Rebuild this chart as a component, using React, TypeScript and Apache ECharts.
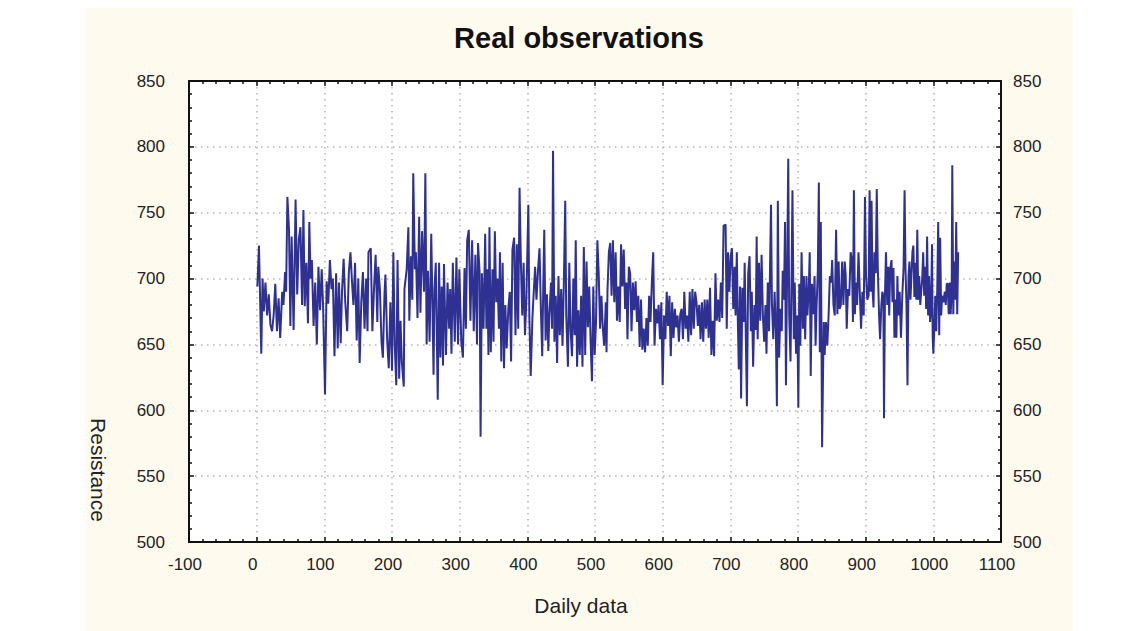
import React, { useEffect, useRef } from "react";
import * as echarts from "echarts";

const titleText = "Real observations";
const xName = "Daily data";
const yName = "Resistance";

// [day, resistance]
const segA: [number, number][] = [
  [1, 694], [3.4, 725], [6.8, 643], [8.7, 700], [10.6, 675], [13, 697], [15.5, 672], [17.9, 688], [20.3, 665], [22.7, 660],
  [25.1, 672], [27.5, 696], [30, 660], [32.4, 685], [34.8, 655], [37.7, 690], [39.6, 680], [42, 705], [43.5, 690], [45.4, 762],
  [47.8, 737], [49.8, 664], [51.7, 732], [54.6, 661], [57.5, 760], [59.9, 688], [62.3, 730], [64.7, 739], [67.1, 680], [69.1, 752],
  [71, 679], [73.4, 712], [75.8, 666], [77.8, 743], [79.7, 700], [81.6, 714], [84.1, 664], [86.5, 697], [88.9, 650], [91.3, 709],
  [93.7, 676], [96.1, 707], [98.1, 680], [101, 612], [103.4, 698], [105.8, 681], [108.2, 714], [110.6, 692], [112.6, 700], [115, 641],
  [117.4, 704], [119.8, 647], [121.7, 697], [124.2, 651], [126.1, 690], [128.5, 715], [130.9, 682], [133.8, 660], [136.2, 705], [138.6, 720],
  [140.6, 700], [143, 680], [145.4, 712], [147.8, 653], [150.2, 700], [152.2, 636], [154.6, 682], [157, 705], [159.4, 662], [161.8, 700],
  [163.8, 660], [165.2, 720],
];

const segB: [number, number][] = [
  [168.6, 723], [171, 660], [173.4, 692], [175.8, 718], [178.3, 667], [179.7, 709], [182.1, 692], [184.5, 652], [186.5, 640], [188.9, 688],
  [190.3, 703], [192.8, 654], [195.2, 632], [197.6, 682], [200, 630], [202, 720], [203.9, 652], [206.3, 619], [208.2, 714], [210.6, 624],
  [212.6, 668], [214.5, 637], [217.4, 618], [218.4, 692], [221.7, 707], [224.2, 739], [225.6, 668], [228, 717], [230, 684], [231.4, 780],
  [233.8, 707], [235.3, 720], [237.7, 670], [240.1, 747], [242, 674], [244.4, 736], [247.3, 690], [249.3, 780], [251.2, 650], [253.1, 706],
  [255.6, 652], [258, 734], [259.4, 692], [261.4, 627], [262.8, 692], [264.7, 712], [267.6, 608], [269.6, 712], [271.5, 640], [273.4, 694],
  [275.4, 634], [276.8, 711], [279.7, 642], [282.1, 697], [284.5, 662], [286, 692], [287.9, 643], [289.9, 712], [292.8, 652], [295.2, 716],
  [297.6, 650], [299.5, 707], [302.4, 652], [304.8, 640], [307.2, 708], [309.2, 662], [311.1, 729], [313.5, 737], [315.9, 668], [318.4, 729],
  [320.8, 660], [323.2, 718], [325.6, 650], [327.1, 727], [329.5, 704], [330.9, 580], [332.9, 704], [335.3, 662], [337.7, 734],
];

const segC: [number, number][] = [
  [339.5, 662], [341, 707], [342.5, 642], [344, 739], [346, 644], [348.5, 707], [350, 652], [352, 736], [354, 682], [356, 700],
  [358, 662], [359.5, 720], [361.5, 637], [363.5, 712], [365.5, 632], [367.5, 680], [369.5, 647], [372, 678], [374, 690], [376, 637],
  [378, 722], [380.5, 731], [382.5, 657], [384.5, 726], [386.5, 662], [388.5, 769], [390.5, 712], [392.5, 672], [394.5, 712], [396.5, 657],
  [398.5, 683], [401.5, 756], [403, 670], [405, 626], [407.5, 670], [409.5, 690], [411.5, 709], [413.5, 684], [416, 708], [418, 723],
  [420, 677], [422, 641], [423.5, 693], [425, 737], [427, 653], [429, 688], [431, 645], [432.5, 672], [435, 697], [436.5, 662],
  [438, 797], [440, 652], [442, 687], [444, 636], [446, 702], [448, 657], [450, 692], [452, 649], [454, 698], [456, 759],
  [457.5, 672], [460, 633], [462, 712], [464, 660], [466, 641], [468, 700], [470, 657], [471.5, 729], [473.5, 633], [475.5, 676],
  [477.5, 642], [479.5, 687], [481.5, 633], [483.5, 724], [485.5, 642], [487.5, 713], [489.5, 663], [491.5, 694], [493.5, 652], [495.5, 622],
  [497.5, 694], [499.5, 642], [501.5, 667], [503.5, 729], [505.5, 704], [507.5, 662], [509.5, 687], [511.5, 663], [513.5, 649], [516, 682],
];

const segD: [number, number][] = [
  [517, 644], [518.5, 692], [520.5, 720], [522.5, 727], [524.5, 687], [526.5, 729], [528.5, 682], [530.5, 720], [532.5, 668], [534.5, 694],
  [536.5, 667], [538.5, 726], [540.5, 694], [542.5, 722], [544.5, 677], [546.5, 697], [548, 654], [550, 709], [552, 704], [554, 660],
  [556, 697], [558, 676], [560, 698], [562, 667], [564, 687], [566, 648], [568, 684], [570, 646], [572, 662], [574, 644],
  [576, 670], [578, 649], [580, 687], [582, 667], [584, 697], [586, 720], [588, 649], [590, 677], [592, 666], [594, 680],
  [596, 654], [598, 682], [600, 619], [602, 672], [604, 654], [606, 690], [608, 664], [610, 687], [612, 641], [614, 682],
  [616, 655], [618, 677], [620, 663], [622, 672], [624, 652], [626, 673], [628, 677], [630, 654], [632, 690], [634, 662],
  [636, 672], [638, 652], [640, 690], [642, 657], [644, 692], [646, 662], [648, 690], [650, 682], [652, 664], [654, 680],
  [656, 654], [658, 682], [660, 652], [662, 684], [664, 662], [666, 684], [668, 655], [670, 693], [672, 642], [674, 668],
  [676, 641], [678, 704], [680, 668], [682, 684], [684, 667], [686, 697], [688, 670], [690, 740],
];

const segE: [number, number][] = [
  [693, 741], [694.7, 662], [696.6, 720], [698.6, 690], [700.5, 717], [702.4, 723], [704.3, 677], [706.3, 709], [707.7, 672], [709.6, 720],
  [711, 670], [712.5, 631], [714.4, 694], [715.9, 609], [717.8, 693], [719.7, 667], [721.2, 712], [723, 652], [724.5, 603], [726.4, 704],
  [728.4, 717], [730.3, 660], [731.7, 690], [733.7, 633], [735.6, 680], [737.5, 661], [738.9, 732], [740.4, 654], [742.3, 712], [744.2, 668],
  [746.2, 718], [748.1, 672], [750, 652], [751.9, 680], [753.4, 643], [755.3, 697], [757.2, 660], [758.7, 709], [760.1, 756], [761.5, 680],
  [763.5, 654], [765.4, 690], [767.3, 660], [768.8, 603], [770.2, 759], [772.1, 640], [774, 677], [776, 660], [777.4, 706], [779.3, 684],
  [780.8, 743], [782.2, 619], [784.1, 714], [785.6, 791], [787, 672], [788.9, 637], [790.4, 697], [791.8, 767], [793.8, 654], [795.2, 697],
  [797.1, 643], [799, 672], [800.5, 602], [801.9, 696], [803.4, 649], [805.3, 720], [807.2, 662], [808.7, 702], [810.6, 654], [812.5, 702],
  [813.9, 672], [815.9, 692], [817.3, 720], [818.8, 626], [820.7, 696], [822.6, 673], [824.5, 702], [826, 649], [827.4, 678], [829.3, 706],
  [830.8, 773], [832.2, 644], [833.7, 743], [835.6, 572], [838, 667], [839.4, 642], [841.3, 667], [843.3, 649], [845.2, 672], [847.1, 702],
  [849, 697], [850.5, 714], [852.4, 680], [854.3, 672], [856.3, 737], [858.2, 673], [860.1, 713], [861.5, 677],
];

const segF: [number, number][] = [
  [863.3, 680], [865.2, 713], [867.1, 680], [869.1, 713], [870.5, 702], [872, 662], [873.9, 692], [875.8, 687], [877.8, 720], [879.7, 714],
  [881.2, 667], [882.6, 767], [884.1, 673], [885.5, 697], [887.4, 680], [889.4, 720], [891.3, 690], [893.2, 662], [895.2, 690], [897.1, 672],
  [899, 762], [900.5, 703], [902.4, 684], [904.3, 687], [905.8, 767], [907.2, 690], [908.7, 759], [910.1, 692], [911.6, 678], [913, 720],
  [914.9, 704], [916.4, 768], [917.9, 709], [919.8, 672], [921.3, 654], [923.2, 680], [924.6, 690], [926.1, 687], [927.1, 594], [928.5, 687],
  [930, 720], [931.9, 680], [933.3, 709], [934.8, 672], [936.2, 707], [938.2, 714], [939.6, 682], [941.1, 708], [942.5, 655], [944, 684],
  [945.4, 655], [946.9, 702], [948.3, 672], [950.2, 690], [952.2, 655], [954.1, 687], [956, 708], [957.5, 767], [958.9, 707], [960.4, 678],
  [961.8, 619], [963.3, 702], [964.7, 713], [966.2, 684], [967.6, 702], [969.1, 720], [970.5, 725], [972, 686], [973.4, 712], [974.9, 684],
  [976.3, 737], [977.8, 684], [979.2, 702], [980.7, 680], [982.1, 690], [983.6, 700], [985, 720], [986.5, 687], [987.9, 709], [989.4, 677],
  [990.8, 732], [992.3, 672], [993.7, 702], [995.2, 667], [996.6, 677], [998.1, 726], [999, 657], [1000, 643], [1001.4, 662], [1002.9, 687],
  [1004.3, 660], [1005.8, 692], [1007.2, 743], [1008.7, 657], [1010.1, 731], [1011.6, 672], [1013, 687], [1015, 682], [1016.9, 690], [1018.4, 680],
  [1019.8, 696], [1021.3, 696], [1022.7, 673], [1024.2, 697], [1025.6, 673], [1027.1, 690], [1028, 786], [1029.5, 673], [1030.9, 713], [1032.4, 684],
  [1033.8, 743], [1035.3, 673], [1036.7, 720],
];

const xTicks = { min: -100, max: 1100, interval: 100 };
const yTicks = { min: 500, max: 850, interval: 50 };

const FONT = "'Liberation Sans Narrow', 'Liberation Sans', Arial, sans-serif";

export default function App() {
  const ref = useRef<HTMLDivElement>(null);
  useEffect(() => {
    if (!ref.current) return;
    const chart = echarts.init(ref.current, undefined, { renderer: "svg" });
    const data = [...segA, ...segB, ...segC, ...segD, ...segE, ...segF];
    const axisLine = { show: true, onZero: false, lineStyle: { color: "#111", width: 2 } };
    const axisTick = { show: true, inside: true, length: 5, lineStyle: { color: "#111", width: 1.5 } };
    const minorTick = { show: true, splitNumber: 5, length: 3, lineStyle: { color: "#111", width: 1.5 } };
    const splitLine = { show: true, lineStyle: { color: "#b5b5b5", width: 1.5, type: [1.5, 4.5] as any } };
    const plain = (v: number) => String(v);
    const label = { fontFamily: FONT, fontSize: 17, color: "#222", formatter: plain };
    chart.setOption({
      animation: false,
      backgroundColor: "#ffffff",
      grid: {
        left: 189, top: 81, right: 139, bottom: 89,
        show: true, backgroundColor: "#ffffff", borderColor: "#111", borderWidth: 0,
        containLabel: false,
      },
      graphic: [
        { type: "rect", z: -100, silent: true, shape: { x: 85, y: 8, width: 988, height: 640 }, style: { fill: "#fefbee" } },
        { type: "text", x: 579, y: 38, style: { text: titleText, fontFamily: FONT, fontSize: 29, fontWeight: "bold", fill: "#111", textAlign: "center", textVerticalAlign: "middle" } },
        { type: "text", x: 581, y: 605, style: { text: xName, fontFamily: FONT, fontSize: 21, fill: "#222", textAlign: "center", textVerticalAlign: "middle" } },
        { type: "text", x: 98, y: 470, rotation: -Math.PI / 2, style: { text: yName, fontFamily: FONT, fontSize: 21, fill: "#222", textAlign: "center", textVerticalAlign: "middle" } },
      ],
      xAxis: [
        {
          type: "value", position: "bottom", ...xTicks,
          axisLine, axisTick, minorTick, splitLine,
          axisLabel: { ...label, margin: 14, padding: [0, 8, 0, 0] },
        },
        {
          type: "value", position: "top", ...xTicks,
          axisLine, axisTick, minorTick, splitLine: { show: false },
          axisLabel: { show: false },
        },
      ],
      yAxis: [
        {
          type: "value", position: "left", ...yTicks,
          axisLine, axisTick, minorTick, splitLine,
          axisLabel: { ...label, margin: 24 },
        },
        {
          type: "value", position: "right", ...yTicks,
          axisLine, axisTick, minorTick, splitLine: { show: false },
          axisLabel: { ...label, margin: 12 },
        },
      ],
      series: [
        {
          type: "line", xAxisIndex: 0, yAxisIndex: 0, data,
          symbol: "none", showSymbol: false,
          lineStyle: { color: "#2e3192", width: 2 },
        },
      ],
    });
    return () => chart.dispose();
  }, []);
  return <div ref={ref} style={{ position: "fixed", left: 0, top: 0, width: 1140, height: 631 }} />;
}
